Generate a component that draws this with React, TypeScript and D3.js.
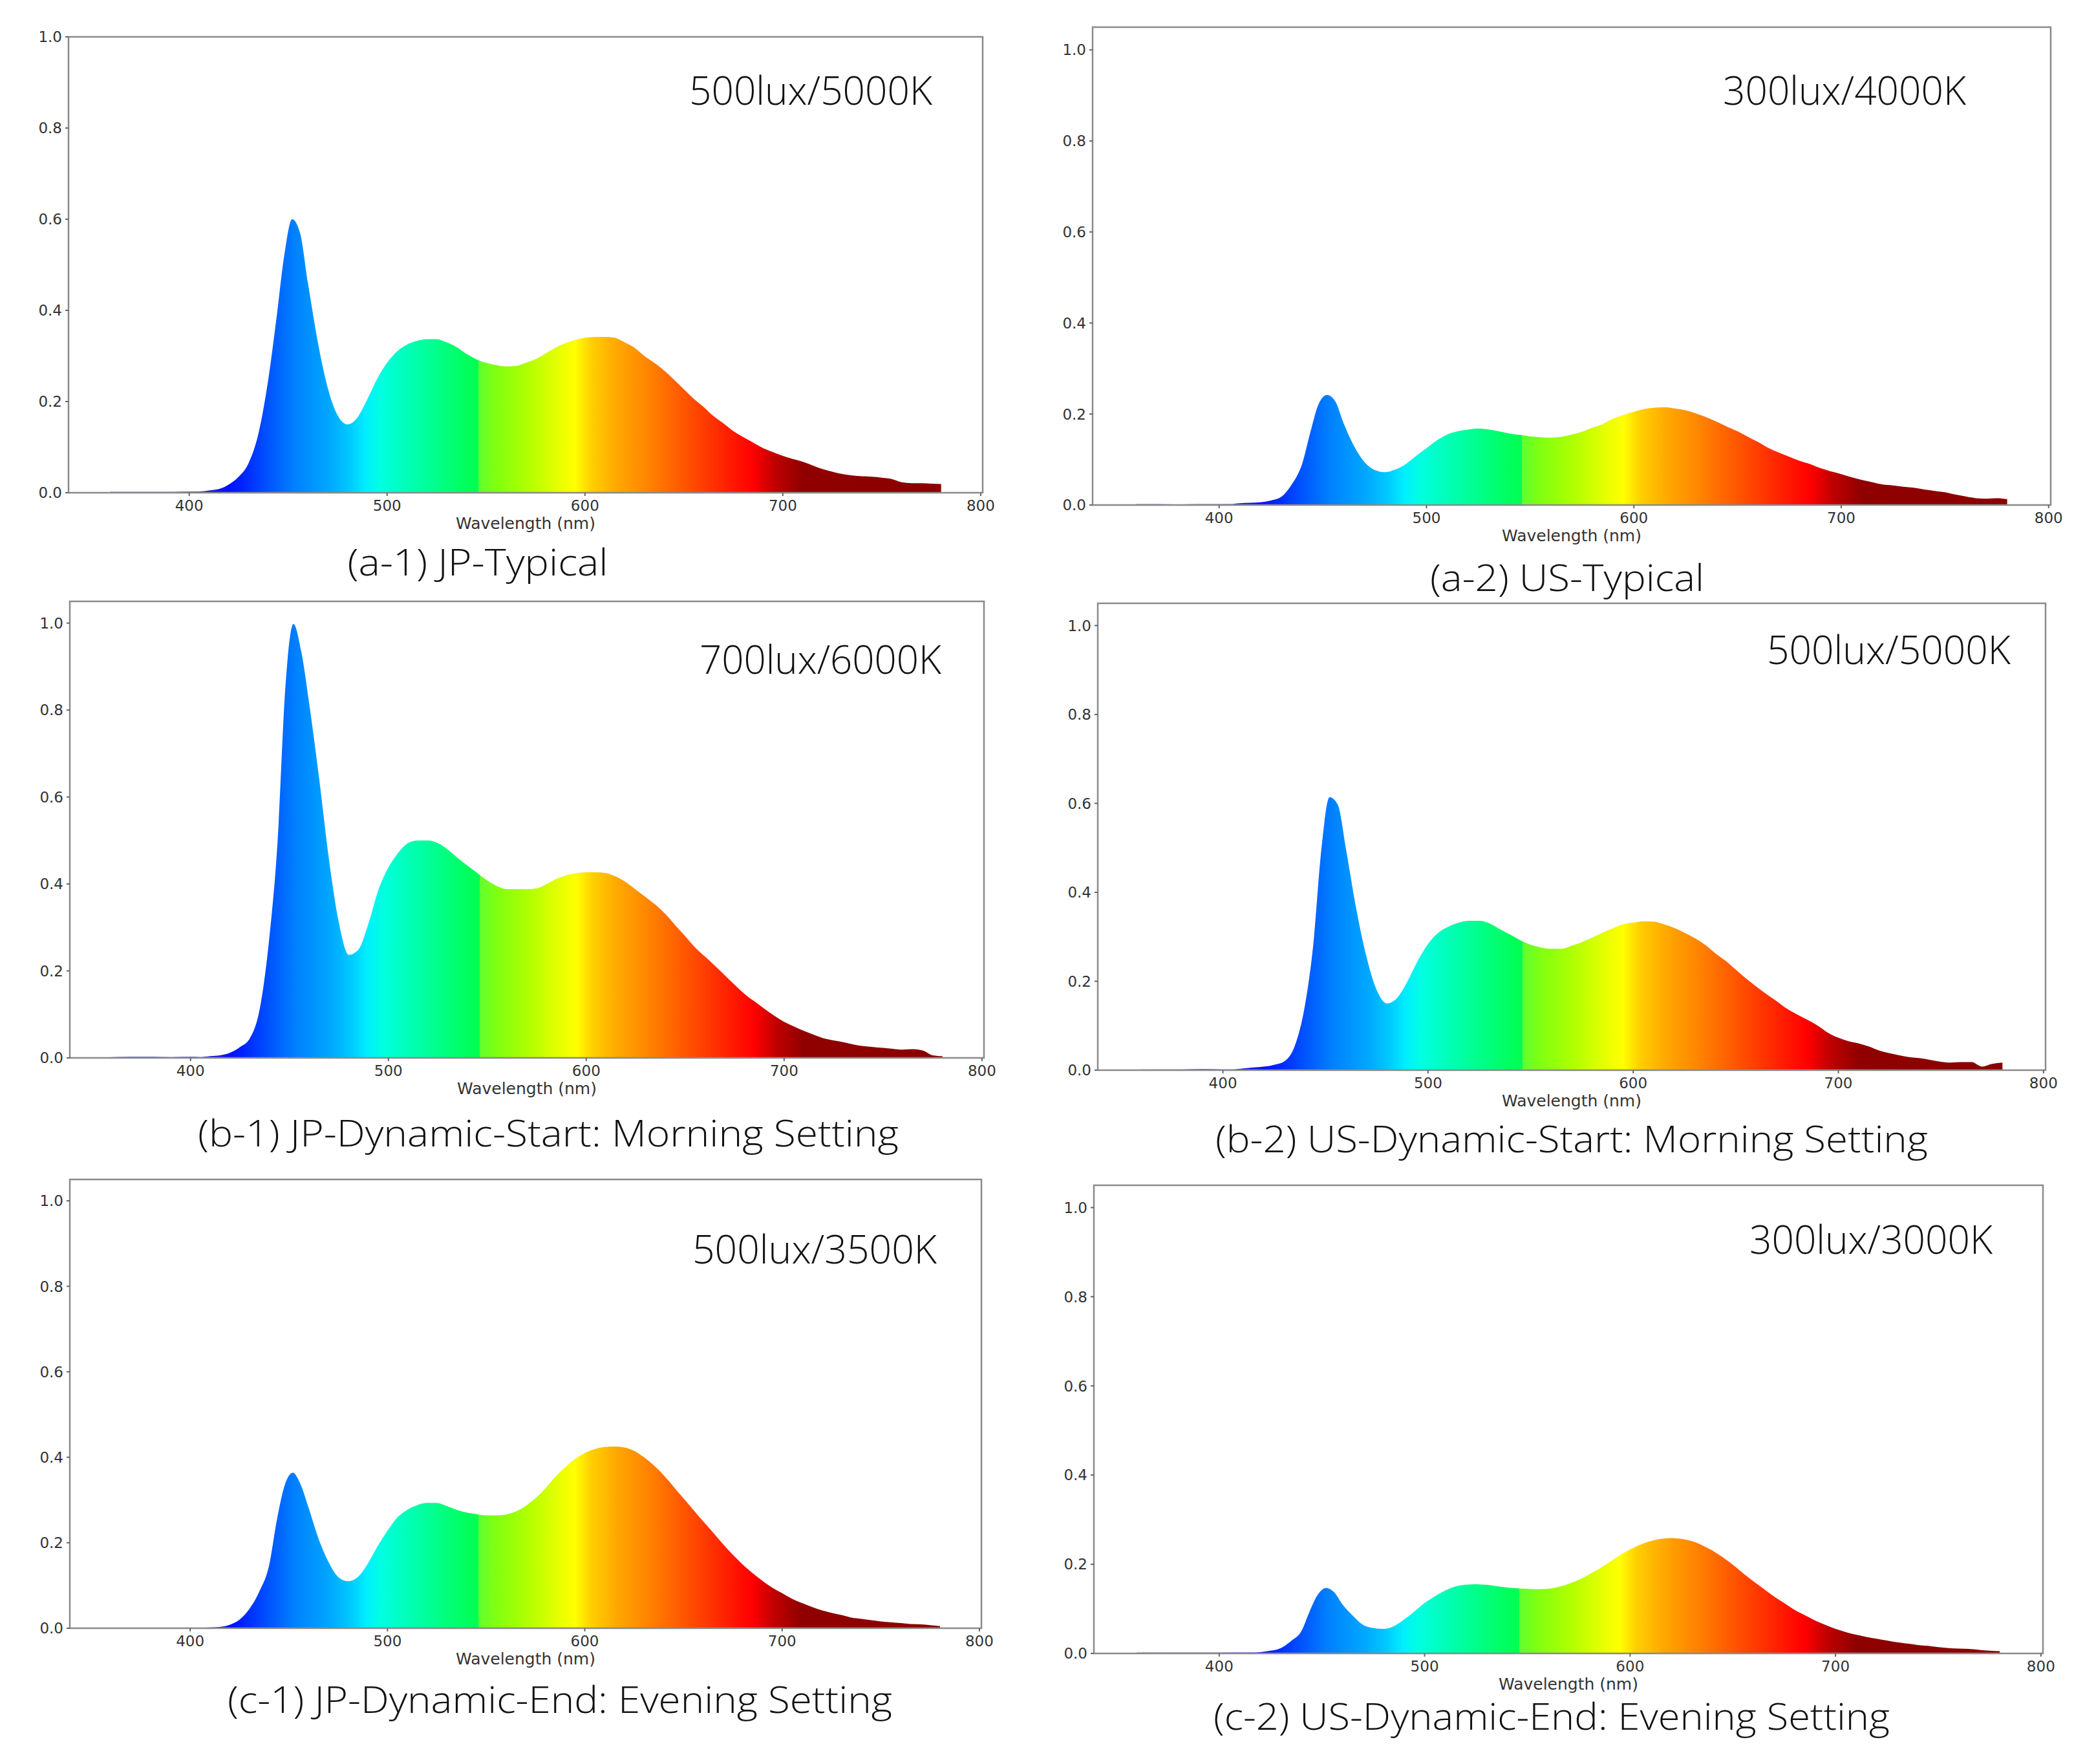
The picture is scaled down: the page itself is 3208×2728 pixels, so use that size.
import * as d3 from 'd3';

// shared wavelength grid (nm) for all six spectra
const WAVELENGTHS = [
  360, 370, 380, 390, 400, 405, 410, 415, 420, 425,
  430, 435, 440, 444, 448, 452, 456, 460, 465, 470,
  475, 480, 485, 490, 495, 500, 505, 510, 515, 520,
  525, 530, 535, 540, 545, 550, 555, 560, 565, 570,
  575, 580, 585, 590, 595, 600, 605, 610, 615, 620,
  625, 630, 635, 640, 645, 650, 655, 660, 665, 670,
  675, 680, 685, 690, 695, 700, 705, 710, 715, 720,
  725, 730, 735, 740, 745, 750, 755, 760, 765, 770,
  775, 780,
];

const JP_TYPICAL = [
  0.002, 0.002, 0.002, 0.002, 0.003, 0.003, 0.005, 0.008, 0.018, 0.035,
  0.065, 0.13, 0.25, 0.38, 0.52, 0.6, 0.57, 0.46, 0.33, 0.23,
  0.17, 0.15, 0.165, 0.205, 0.25, 0.285, 0.31, 0.325, 0.333, 0.337,
  0.337, 0.33, 0.32, 0.305, 0.293, 0.285, 0.28, 0.277, 0.278, 0.285,
  0.293, 0.305, 0.318, 0.328, 0.335, 0.34, 0.342, 0.342, 0.34, 0.33,
  0.318, 0.3, 0.285, 0.268, 0.248, 0.227, 0.206, 0.188, 0.168, 0.152,
  0.135, 0.122, 0.11, 0.098, 0.089, 0.081, 0.074, 0.068, 0.06, 0.052,
  0.046, 0.041, 0.038, 0.036, 0.035, 0.033, 0.03, 0.023, 0.021, 0.021,
  0.02, 0.019,
];

const US_TYPICAL = [
  0.002, 0.002, 0.001, 0.002, 0.002, 0.002, 0.004, 0.005, 0.006, 0.01,
  0.018, 0.045, 0.09, 0.16, 0.222, 0.242, 0.228, 0.18, 0.13, 0.095,
  0.077, 0.072, 0.078, 0.09, 0.108, 0.125, 0.142, 0.155, 0.162, 0.166,
  0.168, 0.166, 0.162, 0.157, 0.154, 0.151, 0.149, 0.148, 0.15, 0.155,
  0.161, 0.17, 0.178, 0.19, 0.198, 0.205, 0.211, 0.214, 0.215, 0.212,
  0.208, 0.201, 0.193, 0.183, 0.172, 0.162, 0.15, 0.138, 0.125, 0.115,
  0.106, 0.097, 0.09, 0.081, 0.074, 0.068, 0.061, 0.055, 0.05, 0.045,
  0.043, 0.04, 0.038, 0.034, 0.031, 0.028, 0.023, 0.019, 0.015, 0.014,
  0.015, 0.013,
];

const JP_DYNAMIC_START = [
  0.002, 0.003, 0.003, 0.002, 0.003, 0.002, 0.004, 0.006, 0.012, 0.025,
  0.045, 0.113, 0.284, 0.498, 0.857, 0.998, 0.934, 0.814, 0.643, 0.455,
  0.31, 0.237, 0.25, 0.31, 0.387, 0.438, 0.472, 0.494, 0.5, 0.5,
  0.494, 0.479, 0.46, 0.442, 0.425, 0.408, 0.395, 0.388, 0.388, 0.388,
  0.39, 0.4, 0.412, 0.42, 0.425, 0.427, 0.427, 0.425, 0.417, 0.404,
  0.387, 0.37, 0.352, 0.331, 0.305, 0.28, 0.254, 0.233, 0.212, 0.19,
  0.168, 0.147, 0.13, 0.113, 0.097, 0.083, 0.072, 0.062, 0.053, 0.045,
  0.04, 0.036, 0.031, 0.027, 0.025, 0.023, 0.021, 0.019, 0.02, 0.017,
  0.006, 0.004,
];

const US_DYNAMIC_START = [
  0.002, 0.002, 0.002, 0.003, 0.002, 0.002, 0.004, 0.006, 0.008, 0.012,
  0.02, 0.054, 0.146, 0.28, 0.497, 0.614, 0.597, 0.497, 0.363, 0.255,
  0.18, 0.15, 0.163, 0.2, 0.246, 0.284, 0.309, 0.323, 0.332, 0.336,
  0.336, 0.33, 0.317, 0.305, 0.292, 0.282, 0.276, 0.273, 0.273, 0.28,
  0.288, 0.298, 0.309, 0.319, 0.328, 0.332, 0.335, 0.334, 0.328, 0.32,
  0.309, 0.297, 0.282, 0.263, 0.246, 0.226, 0.206, 0.188, 0.171, 0.155,
  0.138, 0.125, 0.113, 0.1, 0.084, 0.073, 0.065, 0.06, 0.053, 0.044,
  0.038, 0.033, 0.029, 0.027, 0.023, 0.019, 0.017, 0.018, 0.018, 0.008,
  0.014, 0.017,
];

const JP_DYNAMIC_END = [
  0, 0, 0, 0, 0, 0.001, 0.002, 0.003, 0.008, 0.02,
  0.045, 0.085, 0.147, 0.255, 0.336, 0.364, 0.336, 0.282, 0.21, 0.156,
  0.12, 0.11, 0.12, 0.151, 0.192, 0.228, 0.259, 0.277, 0.288, 0.293,
  0.293, 0.286, 0.277, 0.271, 0.267, 0.264, 0.264, 0.266, 0.273, 0.286,
  0.304, 0.327, 0.354, 0.376, 0.396, 0.41, 0.419, 0.424, 0.425, 0.423,
  0.415, 0.4, 0.381, 0.358, 0.331, 0.304, 0.277, 0.25, 0.224, 0.197,
  0.172, 0.149, 0.129, 0.111, 0.095, 0.082, 0.069, 0.059, 0.05, 0.042,
  0.036, 0.031, 0.025, 0.022, 0.019, 0.016, 0.014, 0.012, 0.01, 0.009,
  0.007, 0.005,
];

const US_DYNAMIC_END = [
  0.002, 0.002, 0.002, 0.002, 0.002, 0.002, 0.002, 0.002, 0.003, 0.006,
  0.012, 0.028, 0.05, 0.094, 0.132, 0.147, 0.137, 0.11, 0.085, 0.064,
  0.057, 0.055, 0.061, 0.076, 0.094, 0.113, 0.128, 0.141, 0.15, 0.154,
  0.155, 0.154, 0.151, 0.148, 0.146, 0.145, 0.144, 0.145, 0.149, 0.156,
  0.165, 0.177, 0.19, 0.205, 0.22, 0.233, 0.244, 0.252, 0.257, 0.259,
  0.257, 0.252, 0.243, 0.231, 0.216, 0.199, 0.18, 0.162, 0.145, 0.128,
  0.113, 0.098, 0.086, 0.074, 0.064, 0.055, 0.048, 0.042, 0.037, 0.033,
  0.029, 0.025, 0.022, 0.019, 0.017, 0.014, 0.012, 0.011, 0.01, 0.008,
  0.006, 0.005,
];

const SERIES = [JP_TYPICAL, US_TYPICAL, JP_DYNAMIC_START, US_DYNAMIC_START, JP_DYNAMIC_END, US_DYNAMIC_END];
const SETTINGS = ['500lux/5000K', '300lux/4000K', '700lux/6000K', '500lux/5000K', '500lux/3500K', '300lux/3000K'];
const CAPTIONS = [
  '(a-1) JP-Typical',
  '(a-2) US-Typical',
  '(b-1) JP-Dynamic-Start: Morning Setting',
  '(b-2) US-Dynamic-Start: Morning Setting',
  '(c-1) JP-Dynamic-End: Evening Setting',
  '(c-2) US-Dynamic-End: Evening Setting',
];
const X_TICKS = [400, 500, 600, 700, 800];
const Y_TICKS = [0, 0.2, 0.4, 0.6, 0.8, 1.0];
const X_DOMAIN: [number, number] = [339, 801];
const Y_MAX = [1.0, 1.05, 1.05, 1.05, 1.05, 1.05];

// colour of the fill at each wavelength (visible-spectrum look)
const SPECTRUM_NM = [
  360, 400, 410, 420, 426, 439, 453, 471, 482, 489,
  497, 507, 523, 539, 546, 546.1, 555, 571, 587, 595,
  603, 616, 630, 646, 662, 678, 685, 696, 710, 780,
];
const SPECTRUM_COLORS = [
  '#7070d0', '#6060d0', '#2020d0', '#0010ff', '#0020ff', '#0050ff', '#0080ff', '#00a8ff', '#00ccff', '#00eeff',
  '#00ffe0', '#00ffc0', '#00ff90', '#00ff60', '#00ff50', '#60ff30', '#80ff10', '#b0ff00', '#e8ff00', '#ffff00',
  '#ffd000', '#ffa800', '#ff8800', '#ff6000', '#ff3800', '#ff1000', '#ff0000', '#c00000', '#900000', '#8b0000',
];

// layout (pixels)
const BOXES = [
  { left: 106, right: 1520, top: 57, bottom: 762 },
  { left: 1690, right: 3172, top: 42, bottom: 781 },
  { left: 108, right: 1522, top: 930, bottom: 1636 },
  { left: 1698, right: 3164, top: 933, bottom: 1655 },
  { left: 108, right: 1518, top: 1824, bottom: 2518 },
  { left: 1692, right: 3160, top: 1833, bottom: 2557 },
];
const SETTING_POS = [
  { x: 1066, y: 141, w: 376 },
  { x: 2665, y: 141, w: 376 },
  { x: 1082, y: 1021, w: 374 },
  { x: 2733, y: 1006, w: 377 },
  { x: 1071, y: 1933, w: 378 },
  { x: 2706, y: 1918, w: 376 },
];
const CAPTION_POS = [
  { cx: 739, cy: 869, w: 403 },
  { cx: 2424, cy: 893, w: 424 },
  { cx: 848, cy: 1752, w: 1084 },
  { cx: 2431, cy: 1761, w: 1102 },
  { cx: 866, cy: 2628, w: 1028 },
  { cx: 2400, cy: 2654, w: 1046 },
];

const TICK_FONT = 'DejaVu Sans, sans-serif';
const BIG_FONT = '"Open Sans", "Noto Sans", sans-serif';

function Panel({ i }: { i: number }) {
  const box = BOXES[i];
  const x = d3.scaleLinear().domain(X_DOMAIN).range([box.left, box.right]);
  const y = d3.scaleLinear().domain([0, Y_MAX[i]]).range([box.bottom, box.top]);
  const pts = WAVELENGTHS.map((w, k) => ({ w, v: SERIES[i][k] }));
  const area = d3.area<{ w: number; v: number }>()
    .x(d => x(d.w)).y0(y(0)).y1(d => y(d.v))
    .curve(d3.curveMonotoneX);
  const gradId = `spec-${i}`;
  const span = X_DOMAIN[1] - X_DOMAIN[0];
  const fmt = d3.format('.1f');

  return (
    <g>
      <defs>
        <linearGradient id={gradId} gradientUnits="userSpaceOnUse" x1={box.left} x2={box.right} y1={0} y2={0}>
          {SPECTRUM_NM.map((nm, k) => (
            <stop key={k} offset={(nm - X_DOMAIN[0]) / span} stopColor={SPECTRUM_COLORS[k]} />
          ))}
        </linearGradient>
      </defs>
      <path d={area(pts) ?? ''} fill={`url(#${gradId})`} />
      <rect x={box.left} y={box.top} width={box.right - box.left} height={box.bottom - box.top}
        fill="none" stroke="#8a8a8a" strokeWidth={2.5} />
      {Y_TICKS.map(t => (
        <g key={t}>
          <line x1={box.left - 5} x2={box.left} y1={y(t)} y2={y(t)} stroke="#666" strokeWidth={2} />
          <text x={box.left - 10} y={y(t)} dy="0.36em" textAnchor="end" fontFamily={TICK_FONT} fontSize={23} fill="#333">
            {fmt(t)}
          </text>
        </g>
      ))}
      {X_TICKS.map(t => (
        <g key={t}>
          <line x1={x(t)} x2={x(t)} y1={box.bottom} y2={box.bottom + 5} stroke="#666" strokeWidth={2} />
          <text x={x(t)} y={box.bottom + 20} dy="0.36em" textAnchor="middle" fontFamily={TICK_FONT} fontSize={23} fill="#333">
            {t}
          </text>
        </g>
      ))}
      <text x={(box.left + box.right) / 2} y={box.bottom + 47} dy="0.36em" textAnchor="middle"
        fontFamily={TICK_FONT} fontSize={25} fill="#333">
        Wavelength (nm)
      </text>
      <text x={SETTING_POS[i].x} y={SETTING_POS[i].y + 21} fontFamily={BIG_FONT} fontWeight={300} fontSize={60}
        fill="#111" textLength={SETTING_POS[i].w} lengthAdjust="spacingAndGlyphs">
        {SETTINGS[i]}
      </text>
      <text x={CAPTION_POS[i].cx - CAPTION_POS[i].w / 2} y={CAPTION_POS[i].cy + 21} fontFamily={BIG_FONT}
        fontWeight={300} fontSize={57} fill="#111" textLength={CAPTION_POS[i].w} lengthAdjust="spacingAndGlyphs">
        {CAPTIONS[i]}
      </text>
    </g>
  );
}

export default function App() {
  return (
    <svg width={3208} height={2728} viewBox="0 0 3208 2728"
      style={{ position: 'absolute', left: 0, top: 0, display: 'block', background: '#fff' }}>
      <rect width={3208} height={2728} fill="#fff" />
      {SERIES.map((_, i) => <Panel key={i} i={i} />)}
    </svg>
  );
}
